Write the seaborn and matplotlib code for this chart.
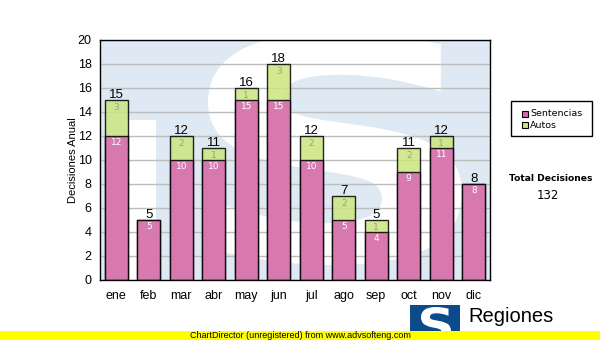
import matplotlib
matplotlib.use("Agg")
import matplotlib.pyplot as plt
import numpy as np
import pandas as pd
import seaborn as sns
from matplotlib.patches import Rectangle, PathPatch
from matplotlib.path import Path
from matplotlib.textpath import TextPath
from matplotlib.font_manager import FontProperties
from matplotlib.transforms import Affine2D

# Monthly decisions
meses = ["ene", "feb", "mar", "abr", "may", "jun", "jul", "ago", "sep", "oct", "nov", "dic"]
sentencias = [12, 5, 10, 10, 15, 15, 10, 5, 4, 9, 11, 8]
autos = [3, 0, 2, 1, 1, 3, 2, 2, 1, 2, 1, 0]
series_names = ["Sentencias", "Autos"]
y_ticks = list(range(0, 21, 2))

W, H = 600, 340
PINK = "#d966b5"
GREEN = "#cce67e"
BG = "#dee9f3"

sns.set_theme(style="white")
plt.rcParams["font.family"] = ["Liberation Sans", "DejaVu Sans"]

df = pd.DataFrame({"mes": meses, "Sentencias": sentencias, "Autos": autos})
df["Total"] = df["Sentencias"] + df["Autos"]
total_decisiones = int(df["Total"].sum())

fig = plt.figure(figsize=(W / 100, H / 100), dpi=100)
fig.patch.set_facecolor("white")


def fx(x):
    return x / W


def fy(y):
    return 1 - y / H


def fbox(x0, y0, x1, y1, **kw):
    """Rectangle given in pixel coordinates (top-left origin)."""
    return Rectangle((fx(x0), fy(y1)), fx(x1) - fx(x0), fy(y0) - fy(y1),
                     transform=fig.transFigure, **kw)


ax = fig.add_axes([fx(100), fy(280), fx(490) - fx(100), fy(40) - fy(280)])
ax.set_facecolor(BG)


def glyph_patch(char, x0, y0, x1, y1, color, target, clip=None, z=0.2):
    """Place a bold glyph stretched into the pixel box (x0, y0)-(x1, y1)."""
    tp = TextPath((0, 0), char, size=1, prop=FontProperties(family="DejaVu Sans", weight="bold"))
    pts = tp.vertices[tp.codes != Path.CLOSEPOLY]
    gx0, gy0 = pts.min(axis=0)
    gx1, gy1 = pts.max(axis=0)
    sx = (fx(x1) - fx(x0)) / (gx1 - gx0)
    sy = (fy(y0) - fy(y1)) / (gy1 - gy0)
    tr = Affine2D().translate(-gx0, -gy0).scale(sx, sy).translate(fx(x0), fy(y1)) + fig.transFigure
    p = PathPatch(tp, facecolor=color, edgecolor="none", transform=tr, zorder=z)
    target.add_artist(p)
    if clip is not None:
        p.set_clip_path(clip)
    return p


# Watermark emblem behind the bars
band = fbox(127, 120, 156, 290, facecolor="white", edgecolor="none", zorder=0.2)
ax.add_artist(band)
band.set_clip_path(ax.patch)
glyph_patch("S", 208, 33, 462, 265, "white", ax, clip=ax.patch)

# Stacked bars: total (green top part) then Sentencias over it
sns.barplot(data=df, x="mes", y="Total", color=GREEN, saturation=1, width=0.7,
            edgecolor="black", linewidth=1, alpha=0.85, ax=ax, zorder=3)
sns.barplot(data=df, x="mes", y="Sentencias", color=PINK, saturation=1, width=0.7,
            edgecolor="black", linewidth=1, alpha=0.85, ax=ax, zorder=4)
for p in ax.patches:
    if isinstance(p, Rectangle) and p.get_zorder() >= 3:
        p.set_edgecolor("black")

ax.set_xlim(-0.5, len(meses) - 0.5)
ax.set_ylim(0, 20)
ax.set_yticks(y_ticks)
ax.set_axisbelow(True)
ax.yaxis.grid(True, color="#bdbdbd", linewidth=1)
ax.xaxis.grid(False)
for s in ax.spines.values():
    s.set_color("black")
    s.set_linewidth(1)
    s.set_zorder(6)
ax.tick_params(axis="both", direction="out", length=4, width=1, color="black",
               labelsize=9, labelcolor="black", pad=2)
ax.tick_params(axis="x", pad=3)
ax.set_xlabel("")
ax.set_ylabel("Decisiones Anual", fontsize=8, color="black")
ax.yaxis.set_label_coords((78 - 100) / 390, 0.5)

# Value labels
for i, (s, a) in enumerate(zip(sentencias, autos)):
    t = s + a
    ax.text(i, t + 0.2, str(t), ha="center", va="baseline", fontsize=9.5, color="black", zorder=7)
    ax.text(i, s - 0.55, str(s), ha="center", va="center", fontsize=6.5,
            family="DejaVu Sans", color="white", zorder=7)
    if a > 0:
        ax.text(i, t - 0.6, str(a), ha="center", va="center", fontsize=6.5,
                family="DejaVu Sans", color="#9a9a9a", zorder=7)

# Legend box
fig.add_artist(fbox(511, 101, 592, 136, facecolor="white", edgecolor="black", linewidth=1, zorder=3))
for (name, col), yc in zip(zip(series_names, [PINK, GREEN]), [114, 125]):
    fig.add_artist(fbox(522, yc - 3, 528, yc + 3, facecolor=col, edgecolor="black",
                        linewidth=0.8, zorder=4))
    fig.text(fx(530), fy(yc), name, ha="left", va="center", fontsize=6.8,
             family="DejaVu Sans", color="black", zorder=4)

fig.text(fx(551), fy(178.5), "Total Decisiones", ha="center", va="center", fontsize=6.6,
         fontweight="bold", family="DejaVu Sans", color="black")
fig.text(fx(548), fy(196), str(total_decisiones), ha="center", va="center", fontsize=8.5,
         family="DejaVu Sans", color="black")

# Logo block at the bottom right
fig.add_artist(fbox(410, 305, 460, 340, facecolor="#0b4a8b", edgecolor="none", zorder=1))
glyph_patch("S", 421, 307, 451, 342, "white", fig, z=1.5)
fig.text(fx(468), fy(321.5), "Regiones", ha="left", va="baseline", fontsize=14.5,
         color="black", zorder=2)
fig.text(fx(469), fy(336), "Tribunal Supremo de Justicia", ha="left", va="center", fontsize=7,
         color="black", zorder=2)

# Footer band
fig.add_artist(fbox(0, 331, 600, 340, facecolor="#ffff00", edgecolor="none", zorder=5))
fig.text(fx(190), fy(335.5), "ChartDirector (unregistered) from www.advsofteng.com",
         ha="left", va="center", fontsize=6.5, color="black", zorder=6)

fig.savefig("out.png", dpi=100, facecolor="white")
